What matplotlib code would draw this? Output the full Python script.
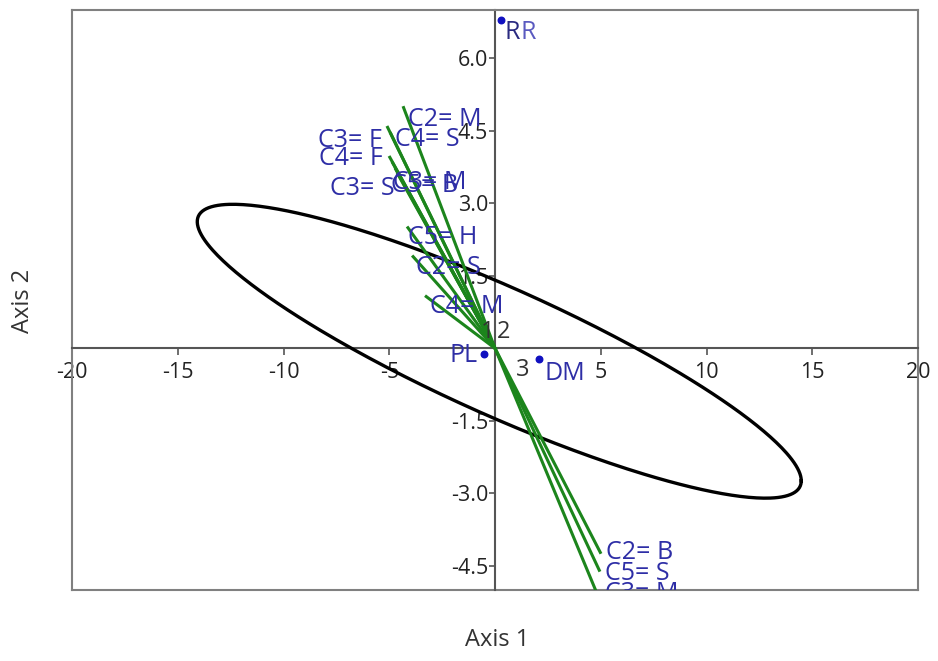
"""Biplot with variable vectors, sample points and a confidence ellipse."""
import matplotlib

matplotlib.use("Agg")
import matplotlib.pyplot as plt
import numpy as np

# vector end points (Axis 1, Axis 2), all drawn from the origin
vec_x = [-4.35, -5.11, -4.96, -5.01, -4.87, -4.73, -4.63,
         -4.16, -3.92, -3.31, 5.01, 4.96, 4.80]
vec_y = [5.01, 4.60, 4.47, 3.98, 3.86, 3.73, 3.63,
         2.52, 1.92, 1.09, -4.25, -4.62, -5.05]

# vector labels and where they sit
vec_labels = ["C2= M", "C3= F", "C4= S", "C4= F", "C3= S", "C3= M", "C5= B",
              "C5= H", "C2= S", "C4= M", "C2= B", "C5= S", "C3= M"]
vec_label_x = [-4.11, -8.37, -4.73, -8.32, -7.80, -4.82, -4.92,
               -4.11, -3.74, -3.07, 5.25, 5.20, 5.20]
vec_label_y = [4.74, 4.29, 4.33, 3.92, 3.30, 3.44, 3.36,
               2.29, 1.67, 0.87, -4.23, -4.66, -5.07]

# sample points
pt_names = ["RR", "PL", "DM"]
pt_x = [0.28, -0.52, 2.08]
pt_y = [6.80, -0.12, -0.23]

# small numeric labels near the origin
num_labels = ["1", "2", "3"]
num_x = [-0.33, 0.38, 1.32]
num_y = [0.33, 0.33, -0.45]

# ellipse: centre and shape matrix
ell_center = [0.2, -0.06]
ell_shape = [[203.9, -38.27], [-38.27, 9.24]]

x_ticks = [-20, -15, -10, -5, 5, 10, 15, 20]
y_ticks = [-4.5, -3.0, -1.5, 1.5, 3.0, 4.5, 6.0]

FONT = "Open Sans"
BLUE_TEXT = "#2e2ea6"
LABEL_SIZE = 18


def draw_frame(ax):
    """Grey box round the plot and axis lines through zero."""
    for side in ("top", "right"):
        ax.spines[side].set_color("#808080")
        ax.spines[side].set_linewidth(1.5)
    for side in ("left", "bottom"):
        ax.spines[side].set_position(("data", 0))
        ax.spines[side].set_color("#555555")
        ax.spines[side].set_linewidth(1.5)
    ax.plot([0, 0], [0, 1], transform=ax.transAxes, color="#808080",
            lw=1.5, clip_on=False)
    ax.plot([0, 1], [0, 0], transform=ax.transAxes, color="#808080",
            lw=1.5, clip_on=False)


fig = plt.figure(figsize=(9.38, 6.61), dpi=100)
ax = fig.add_axes([0.0768, 0.1074, 0.9019, 0.8775])
ax.set_xlim(-20, 20)
ax.set_ylim(-5, 7)
draw_frame(ax)

# ellipse outline
t = np.linspace(0, 2 * np.pi, 400)
chol = np.linalg.cholesky(np.array(ell_shape))
ell = chol @ np.vstack([np.cos(t), np.sin(t)])
ax.plot(ell[0] + ell_center[0], ell[1] + ell_center[1], color="black",
        lw=2.4, zorder=3)

# vectors
for vx, vy in zip(vec_x, vec_y):
    ax.plot([0, vx], [0, vy], color="#1c851c", lw=2.2, zorder=4,
            solid_capstyle="butt")

for name, lx, ly in zip(vec_labels, vec_label_x, vec_label_y):
    ax.text(lx, ly, name, color=BLUE_TEXT, fontsize=LABEL_SIZE, family=FONT,
            ha="left", va="center", clip_on=True, zorder=6)

# points
ax.scatter(pt_x, pt_y, s=22, color="#1010c0", zorder=5, clip_on=False)
ax.text(pt_x[0] + 0.19, pt_y[0] - 0.27, "R", color="#2a2a80",
        fontsize=LABEL_SIZE, family=FONT, ha="left", va="center", zorder=6)
ax.text(pt_x[0] + 0.92, pt_y[0] - 0.27, "R", color="#5a5ac0",
        fontsize=LABEL_SIZE, family=FONT, ha="left", va="center", zorder=6)
ax.text(pt_x[1] - 0.28, pt_y[1] - 0.02, pt_names[1], color=BLUE_TEXT,
        fontsize=LABEL_SIZE, family=FONT, ha="right", va="center", zorder=6)
ax.text(pt_x[2] + 0.28, pt_y[2] - 0.29, pt_names[2], color=BLUE_TEXT,
        fontsize=LABEL_SIZE, family=FONT, ha="left", va="center", zorder=6)

for name, nx, ny in zip(num_labels, num_x, num_y):
    ax.text(nx, ny, name, color="#333333", fontsize=17, family=FONT,
            ha="center", va="center", zorder=6)

# ticks
ax.set_xticks(x_ticks)
ax.set_xticklabels([str(v) for v in x_ticks], family=FONT, fontsize=15.5)
ax.set_yticks(y_ticks)
ax.set_yticklabels([f"{v:.1f}" for v in y_ticks], family=FONT, fontsize=15.5)
ax.tick_params(axis="x", direction="out", length=5, width=1.2,
               color="#555555", pad=4.5, labelcolor="#222222")
ax.tick_params(axis="y", direction="out", length=4, width=1.2,
               color="#555555", pad=1, labelcolor="#222222")

fig.text(0.530, 0.032, "Axis 1", family=FONT, fontsize=17, ha="center",
         va="center", color="#333333")
fig.text(0.024, 0.545, "Axis 2", family=FONT, fontsize=17, ha="center",
         va="center", rotation=90, color="#333333")

fig.savefig("out.png", dpi=100)
plt.close(fig)
